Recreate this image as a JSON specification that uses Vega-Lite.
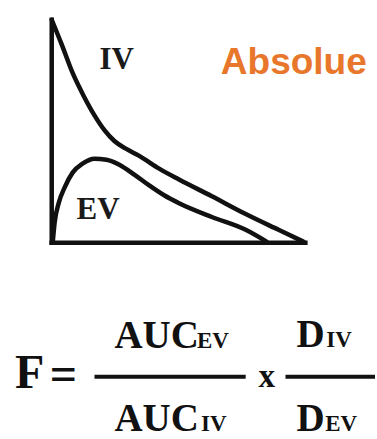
{
  "$schema": "https://vega.github.io/schema/vega-lite/v6.json",
  "width": 377,
  "height": 439,
  "padding": 0,
  "autosize": {"type": "fit", "contains": "padding"},
  "background": "white",
  "config": {"view": {"stroke": null}},
  "datasets": {
    "frame": [
      {"part": "y-axis", "x": 52, "y": 20, "x2": 52, "y2": 246},
      {"part": "x-axis", "x": 52, "y": 246, "x2": 307, "y2": 246}
    ],
    "curves": [
      {"series": "IV", "x": 52, "y": 20},
      {"series": "IV", "x": 62, "y": 45},
      {"series": "IV", "x": 73, "y": 74},
      {"series": "IV", "x": 84, "y": 97},
      {"series": "IV", "x": 95, "y": 117},
      {"series": "IV", "x": 105, "y": 132},
      {"series": "IV", "x": 115, "y": 143},
      {"series": "IV", "x": 127, "y": 151},
      {"series": "IV", "x": 140, "y": 158},
      {"series": "IV", "x": 160, "y": 171},
      {"series": "IV", "x": 180, "y": 182},
      {"series": "IV", "x": 213, "y": 199},
      {"series": "IV", "x": 247, "y": 217},
      {"series": "IV", "x": 280, "y": 233},
      {"series": "IV", "x": 305, "y": 245},
      {"series": "EV", "x": 53, "y": 246},
      {"series": "EV", "x": 55, "y": 225},
      {"series": "EV", "x": 59, "y": 206},
      {"series": "EV", "x": 65, "y": 190},
      {"series": "EV", "x": 73, "y": 175},
      {"series": "EV", "x": 83, "y": 166},
      {"series": "EV", "x": 95, "y": 161},
      {"series": "EV", "x": 107, "y": 162},
      {"series": "EV", "x": 120, "y": 167},
      {"series": "EV", "x": 135, "y": 177},
      {"series": "EV", "x": 150, "y": 188},
      {"series": "EV", "x": 165, "y": 198},
      {"series": "EV", "x": 180, "y": 206},
      {"series": "EV", "x": 213, "y": 220},
      {"series": "EV", "x": 247, "y": 233},
      {"series": "EV", "x": 268, "y": 245}
    ],
    "bars": [
      {"part": "AUC ratio", "x": 95, "x2": 247, "y": 382},
      {"part": "D ratio", "x": 287, "x2": 377, "y": 382}
    ],
    "texts": [
      {"role": "curve", "text": "IV", "x": 100, "y": 70},
      {"role": "curve", "text": "EV", "x": 77, "y": 222},
      {"role": "title", "text": "Absolue", "x": 222, "y": 75},
      {"role": "big", "text": "F", "x": 15, "y": 393},
      {"role": "big", "text": "=", "x": 50, "y": 395},
      {"role": "main", "text": "AUC", "x": 115, "y": 353},
      {"role": "sub", "text": "EV", "x": 198, "y": 353},
      {"role": "main", "text": "AUC", "x": 115, "y": 437},
      {"role": "sub", "text": "IV", "x": 202, "y": 437},
      {"role": "op", "text": "x", "x": 260, "y": 392},
      {"role": "main", "text": "D", "x": 298, "y": 352},
      {"role": "sub", "text": "IV", "x": 328, "y": 352},
      {"role": "main", "text": "D", "x": 298, "y": 437},
      {"role": "sub", "text": "EV", "x": 327, "y": 437}
    ]
  },
  "layer": [
    {
      "data": {"name": "frame"},
      "mark": {"type": "rule", "color": "#111111", "strokeWidth": 4.5, "strokeCap": "square"},
      "encoding": {
        "x": {"field": "x", "type": "quantitative", "scale": {"domain": [0, 377], "nice": false, "zero": false}, "axis": null},
        "y": {"field": "y", "type": "quantitative", "scale": {"domain": [0, 439], "nice": false, "zero": false, "reverse": true}, "axis": null},
        "x2": {"field": "x2"},
        "y2": {"field": "y2"}
      }
    },
    {
      "data": {"name": "curves"},
      "mark": {"type": "line", "color": "#111111", "strokeWidth": 4.5, "interpolate": "monotone", "strokeCap": "round"},
      "encoding": {
        "x": {"field": "x", "type": "quantitative", "scale": {"domain": [0, 377], "nice": false, "zero": false}, "axis": null},
        "y": {"field": "y", "type": "quantitative", "scale": {"domain": [0, 439], "nice": false, "zero": false, "reverse": true}, "axis": null},
        "detail": {"field": "series"}
      }
    },
    {
      "data": {"name": "bars"},
      "mark": {"type": "rule", "color": "#111111", "strokeWidth": 4},
      "encoding": {
        "x": {"field": "x", "type": "quantitative", "scale": {"domain": [0, 377], "nice": false, "zero": false}, "axis": null},
        "x2": {"field": "x2"},
        "y": {"field": "y", "type": "quantitative", "scale": {"domain": [0, 439], "nice": false, "zero": false, "reverse": true}, "axis": null}
      }
    },
    {
      "data": {"name": "texts"},
      "transform": [{"filter": "datum.role === 'curve'"}],
      "mark": {"type": "text", "font": "Liberation Serif", "fontWeight": "bold", "fontSize": 31, "align": "left", "baseline": "alphabetic", "color": "#1a1a1a"},
      "encoding": {
        "x": {"field": "x", "type": "quantitative", "scale": {"domain": [0, 377], "nice": false, "zero": false}, "axis": null},
        "y": {"field": "y", "type": "quantitative", "scale": {"domain": [0, 439], "nice": false, "zero": false, "reverse": true}, "axis": null},
        "text": {"field": "text"}
      }
    },
    {
      "data": {"name": "texts"},
      "transform": [{"filter": "datum.role === 'title'"}],
      "mark": {"type": "text", "font": "Liberation Sans", "fontWeight": "bold", "fontSize": 37, "align": "left", "baseline": "alphabetic", "color": "#E8772C"},
      "encoding": {
        "x": {"field": "x", "type": "quantitative", "scale": {"domain": [0, 377], "nice": false, "zero": false}, "axis": null},
        "y": {"field": "y", "type": "quantitative", "scale": {"domain": [0, 439], "nice": false, "zero": false, "reverse": true}, "axis": null},
        "text": {"field": "text"}
      }
    },
    {
      "data": {"name": "texts"},
      "transform": [{"filter": "datum.role === 'big'"}],
      "mark": {"type": "text", "font": "Liberation Serif", "fontWeight": "bold", "fontSize": 48, "align": "left", "baseline": "alphabetic", "color": "#111111"},
      "encoding": {
        "x": {"field": "x", "type": "quantitative", "scale": {"domain": [0, 377], "nice": false, "zero": false}, "axis": null},
        "y": {"field": "y", "type": "quantitative", "scale": {"domain": [0, 439], "nice": false, "zero": false, "reverse": true}, "axis": null},
        "text": {"field": "text"}
      }
    },
    {
      "data": {"name": "texts"},
      "transform": [{"filter": "datum.role === 'main'"}],
      "mark": {"type": "text", "font": "Liberation Serif", "fontWeight": "bold", "fontSize": 39, "align": "left", "baseline": "alphabetic", "color": "#111111"},
      "encoding": {
        "x": {"field": "x", "type": "quantitative", "scale": {"domain": [0, 377], "nice": false, "zero": false}, "axis": null},
        "y": {"field": "y", "type": "quantitative", "scale": {"domain": [0, 439], "nice": false, "zero": false, "reverse": true}, "axis": null},
        "text": {"field": "text"}
      }
    },
    {
      "data": {"name": "texts"},
      "transform": [{"filter": "datum.role === 'sub'"}],
      "mark": {"type": "text", "font": "Liberation Serif", "fontWeight": "bold", "fontSize": 23, "align": "left", "baseline": "alphabetic", "color": "#111111"},
      "encoding": {
        "x": {"field": "x", "type": "quantitative", "scale": {"domain": [0, 377], "nice": false, "zero": false}, "axis": null},
        "y": {"field": "y", "type": "quantitative", "scale": {"domain": [0, 439], "nice": false, "zero": false, "reverse": true}, "axis": null},
        "text": {"field": "text"}
      }
    },
    {
      "data": {"name": "texts"},
      "transform": [{"filter": "datum.role === 'op'"}],
      "mark": {"type": "text", "font": "Liberation Serif", "fontWeight": "bold", "fontSize": 33, "align": "left", "baseline": "alphabetic", "color": "#111111"},
      "encoding": {
        "x": {"field": "x", "type": "quantitative", "scale": {"domain": [0, 377], "nice": false, "zero": false}, "axis": null},
        "y": {"field": "y", "type": "quantitative", "scale": {"domain": [0, 439], "nice": false, "zero": false, "reverse": true}, "axis": null},
        "text": {"field": "text"}
      }
    }
  ]
}
